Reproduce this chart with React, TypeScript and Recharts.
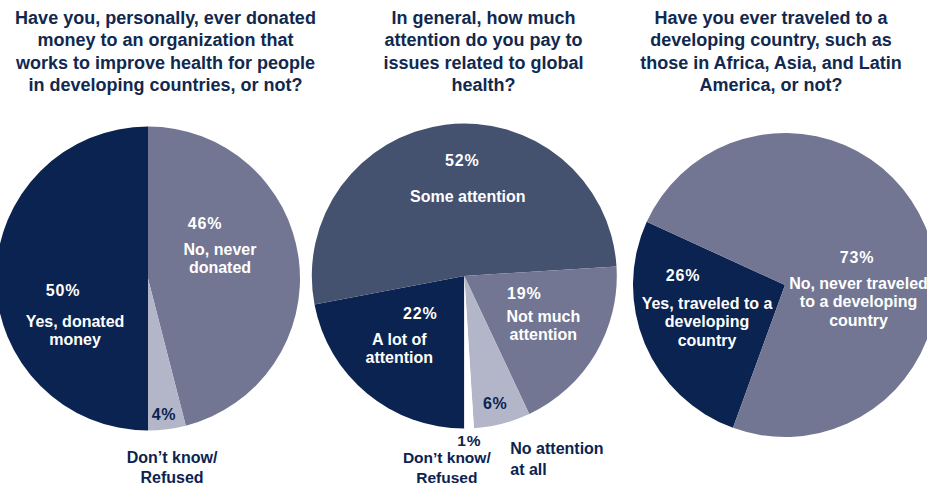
import React from 'react'
import { PieChart, Pie, Cell } from 'recharts'

// Pie 1 - donated money
const donatedNames = ['No, never donated', "Don't know/ Refused", 'Yes, donated money']
const donatedLines = [['No, never', 'donated'], ['Don\u2019t know/', 'Refused'], ['Yes, donated', 'money']]
const donatedValues = [46, 4, 50]

// Pie 2 - attention to global health
const attentionNames = ['A lot of attention', 'Some attention', 'Not much attention', 'No attention at all', "Don't know/ Refused"]
const attentionLines = [['A lot of', 'attention'], ['Some attention'], ['Not much', 'attention'], ['No attention', 'at all'], ['Don\u2019t know/', 'Refused']]
const attentionValues = [22, 52, 19, 6, 1]

// Pie 3 - traveled to developing country
const traveledNames = ['Yes, traveled to a developing country', 'No, never traveled to a developing country']
const traveledLines = [['Yes, traveled to a', 'developing', 'country'], ['No, never traveled', 'to a developing', 'country']]
const traveledValues = [26, 73]

const titles = [
  ['Have you, personally, ever donated', 'money to an organization that', 'works to improve health for people', 'in developing countries, or not?'],
  ['In general, how much', 'attention do you pay to', 'issues related to global', 'health?'],
  ['Have you ever traveled to a', 'developing country, such as', 'those in Africa, Asia, and Latin', 'America, or not?'],
]

const NAVY = '#0b2350'
const MID = '#727693'
const LIGHT = '#b3b6c9'
const SLATE = '#44516f'
const FONT = '"Liberation Sans", Arial, Helvetica, sans-serif'

type LabelPos = { px: number; py: number; tx: number; ty: number; color: string; anchor?: 'start' | 'middle'; lh?: number; fs?: number }

const donatedLayout: LabelPos[] = [
  { px: 57, py: -55.5, tx: 72, ty: -29.5, color: '#fff' },
  { px: 16, py: 135.5, tx: 24, ty: 178.5, color: NAVY, lh: 20 },
  { px: -85, py: 11.5, tx: -73, ty: 42.5, color: '#fff' },
]
const attentionLayout: LabelPos[] = [
  { px: -44, py: 37, tx: -65, ty: 63, color: '#fff' },
  { px: -2, py: -116, tx: 3.5, ty: -80, color: '#fff' },
  { px: 60, py: 17, tx: 79, ty: 40, color: '#fff' },
  { px: 31, py: 127, tx: 46, ty: 172, color: NAVY, anchor: 'start', lh: 21 },
  { px: 5, py: 164.5, tx: -17.5, ty: 181.5, color: NAVY, lh: 19.5, fs: 15.5 },
]
const traveledLayout: LabelPos[] = [
  { px: -102, py: -10, tx: -78, ty: 18, color: '#fff' },
  { px: 72, py: -28, tx: 73.5, ty: -2, color: '#fff' },
]

function makeLabel(layout: LabelPos[], lines: string[][]) {
  return (props: any) => {
    const { cx, cy, index, value } = props
    const l = layout[index]
    const lh = l.lh ?? 18.8
    const fs = l.fs ?? 16
    const anchor = l.anchor ?? 'middle'
    return (
      <g key={`lbl-${index}`}>
        <text
          x={cx + l.px}
          y={cy + l.py}
          textAnchor="middle"
          dominantBaseline="central"
          fill={l.color}
          fontFamily={FONT}
          fontWeight="bold"
          fontSize={fs}
          letterSpacing={0.8}
        >
          {`${value}%`}
        </text>
        {lines[index].map((t, i) => (
          <text
            key={i}
            x={cx + l.tx}
            y={cy + l.ty + i * lh}
            textAnchor={anchor}
            dominantBaseline="central"
            fill={l.color}
            fontFamily={FONT}
            fontWeight="bold"
            fontSize={fs}
          >
            {t}
          </text>
        ))}
      </g>
    )
  }
}

const toData = (names: string[], values: number[]) => names.map((name, i) => ({ name, value: values[i] }))

export default function App() {
  const donatedData = toData(donatedNames, donatedValues)
  const attentionData = toData(attentionNames, attentionValues)
  const traveledData = toData(traveledNames, traveledValues)

  const titleX = [165.5, 483.5, 771]

  return (
    <div style={{ position: 'relative', width: 927, height: 487, background: '#fff', overflow: 'hidden' }}>
      <style>{`body{margin:0}`}</style>
      {titles.map((lines, i) => (
        <div
          key={i}
          style={{
            position: 'absolute',
            top: 7,
            left: titleX[i] - 200,
            width: 400,
            textAlign: 'center',
            fontFamily: FONT,
            fontWeight: 'bold',
            fontSize: 18,
            lineHeight: '22.3px',
            color: '#11284f',
            whiteSpace: 'nowrap',
          }}
        >
          {lines.map((t, j) => (
            <div key={j}>{t}</div>
          ))}
        </div>
      ))}
      <div style={{ position: 'absolute', top: 0, left: 0 }}>
        <PieChart width={927} height={487} margin={{ top: 0, right: 0, bottom: 0, left: 0 }}>
          <Pie
            data={donatedData}
            dataKey="value"
            cx={148}
            cy={278.5}
            outerRadius={152}
            startAngle={90}
            endAngle={-270}
            stroke="none"
            labelLine={false}
            label={makeLabel(donatedLayout, donatedLines)}
            isAnimationActive={false}
          >
            {[MID, LIGHT, NAVY].map((c, i) => (
              <Cell key={i} fill={c} />
            ))}
          </Pie>
          <Pie
            data={attentionData}
            dataKey="value"
            cx={464.3}
            cy={276}
            outerRadius={152.5}
            startAngle={-90}
            endAngle={-450}
            stroke="none"
            labelLine={false}
            label={makeLabel(attentionLayout, attentionLines)}
            isAnimationActive={false}
          >
            {[NAVY, SLATE, MID, LIGHT, '#ffffff'].map((c, i) => (
              <Cell key={i} fill={c} />
            ))}
          </Pie>
          <Pie
            data={traveledData}
            dataKey="value"
            cx={785}
            cy={285}
            outerRadius={152}
            startAngle={250}
            endAngle={-110}
            stroke="none"
            labelLine={false}
            label={makeLabel(traveledLayout, traveledLines)}
            isAnimationActive={false}
          >
            {[NAVY, MID].map((c, i) => (
              <Cell key={i} fill={c} />
            ))}
          </Pie>
        </PieChart>
      </div>
    </div>
  )
}
